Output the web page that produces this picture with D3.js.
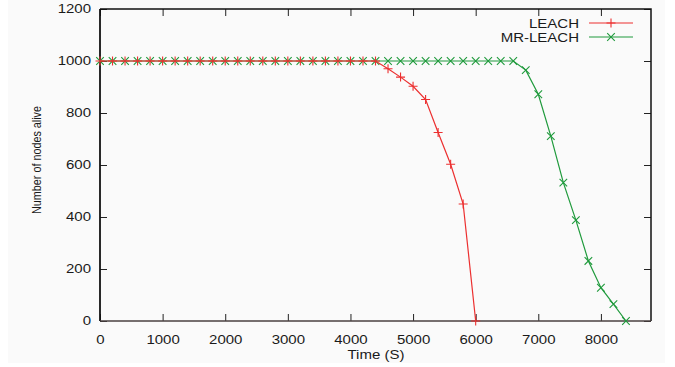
<!DOCTYPE html>
<html>
<head>
<meta charset="utf-8">
<script src="https://cdn.jsdelivr.net/npm/d3@7"></script>
<style>
  body { margin: 0; background: #fff; }
  svg { display: block; font-family: "Liberation Sans", Arial, sans-serif; }
</style>
</head>
<body>
<div id="chart"></div>
<script>
// time (s) and nodes alive
var leachTime  = [0, 200, 400, 600, 800, 1000, 1200, 1400, 1600, 1800, 2000, 2200, 2400, 2600, 2800,
                  3000, 3200, 3400, 3600, 3800, 4000, 4200, 4400, 4600, 4800, 5000, 5200, 5400, 5600, 5800, 6000];
var leachAlive = [1000, 1000, 1000, 1000, 1000, 1000, 1000, 1000, 1000, 1000, 1000, 1000, 1000, 1000, 1000,
                  1000, 1000, 1000, 1000, 1000, 1000, 1000, 1000, 970, 938, 903, 852, 725, 603, 450, 0];

var mrTime  = [0, 200, 400, 600, 800, 1000, 1200, 1400, 1600, 1800, 2000, 2200, 2400, 2600, 2800, 3000, 3200,
               3400, 3600, 3800, 4000, 4200, 4400, 4600, 4800, 5000, 5200, 5400, 5600, 5800, 6000, 6200, 6400,
               6600, 6800, 7000, 7200, 7400, 7600, 7800, 8000, 8200, 8400];
var mrAlive = [1000, 1000, 1000, 1000, 1000, 1000, 1000, 1000, 1000, 1000, 1000, 1000, 1000, 1000, 1000, 1000, 1000,
               1000, 1000, 1000, 1000, 1000, 1000, 1000, 1000, 1000, 1000, 1000, 1000, 1000, 1000, 1000, 1000,
               1000, 965, 872, 711, 532, 388, 231, 128, 65, 0];

var xTicks = [0, 1000, 2000, 3000, 4000, 5000, 6000, 7000, 8000];
var yTicks = [0, 200, 400, 600, 800, 1000, 1200];
var seriesNames = ["LEACH", "MR-LEACH"];

var W = 675, H = 367,
    plot = { left: 100, right: 651, top: 9, bottom: 321 },
    stretch = 1.25,   // the picture's text is drawn wide
    red = "#ec2f2f", green = "#1f9a3c";

var svg = d3.select("#chart").append("svg")
    .attr("width", W).attr("height", H);

// faint grey page behind the plot
svg.append("rect").attr("x", 8).attr("y", 0).attr("width", 657).attr("height", 363)
    .attr("fill", "#fafafa");

var x = d3.scaleLinear().domain([0, 8800]).range([plot.left, plot.right]);
var y = d3.scaleLinear().domain([0, 1200]).range([plot.bottom, plot.top]);

// widen a text node to the look of the picture
function widen(sel, k) {
  sel.each(function () {
    var len = this.getComputedTextLength();
    d3.select(this).attr("textLength", len * k).attr("lengthAdjust", "spacingAndGlyphs");
  });
}

function styleAxis(g) {
  g.select(".domain").remove();
  g.selectAll("line").attr("stroke", "#222").attr("stroke-width", 1);
  g.selectAll("text").attr("fill", "#1a1a1a").style("font-size", "12px");
}

// inward ticks on all four sides
svg.append("g").attr("transform", "translate(0," + plot.bottom + ")")
  .call(d3.axisBottom(x).tickValues(xTicks).tickSize(-7).tickPadding(14).tickFormat(d3.format("d")))
  .call(styleAxis)
  .call(function (g) { widen(g.selectAll("text"), stretch); });

svg.append("g").attr("transform", "translate(" + plot.left + ",0)")
  .call(d3.axisLeft(y).tickValues(yTicks).tickSize(-7).tickPadding(9).tickFormat(d3.format("d")))
  .call(styleAxis)
  .call(function (g) { widen(g.selectAll("text"), stretch); });

svg.append("g").attr("transform", "translate(0," + plot.top + ")")
  .call(d3.axisTop(x).tickValues(xTicks).tickSize(-7).tickFormat(""))
  .call(styleAxis);

svg.append("g").attr("transform", "translate(" + plot.right + ",0)")
  .call(d3.axisRight(y).tickValues(yTicks).tickSize(-7).tickFormat(""))
  .call(styleAxis);

// border
svg.append("path")
  .attr("d", "M" + plot.left + "," + plot.top + "H" + plot.right + "V" + plot.bottom)
  .attr("fill", "none").attr("stroke", "#111").attr("stroke-width", 1.5);
svg.append("line").attr("x1", plot.left).attr("x2", plot.left).attr("y1", plot.top).attr("y2", plot.bottom)
  .attr("stroke", "#111").attr("stroke-width", 1.8);
svg.append("line").attr("x1", plot.left).attr("x2", plot.right).attr("y1", plot.bottom).attr("y2", plot.bottom)
  .attr("stroke", "#4a4040").attr("stroke-width", 1.3);

// series
var line = d3.line().x(function (d) { return x(d[0]); }).y(function (d) { return y(d[1]); });

function plusPath(cx, cy, r) {
  return "M" + (cx - r) + "," + cy + "H" + (cx + r) + "M" + cx + "," + (cy - r) + "V" + (cy + r);
}
function crossPath(cx, cy, r) {
  return "M" + (cx - r) + "," + (cy - r) + "L" + (cx + r) + "," + (cy + r) +
         "M" + (cx - r) + "," + (cy + r) + "L" + (cx + r) + "," + (cy - r);
}

var series = [
  { name: seriesNames[0], pts: d3.zip(leachTime, leachAlive), color: red, marker: plusPath, r: 4.5 },
  { name: seriesNames[1], pts: d3.zip(mrTime, mrAlive), color: green, marker: crossPath, r: 3.8 }
];

// draw green first so the red plus marks show through on the shared flat part
[series[1], series[0]].forEach(function (s) {
  svg.append("path").datum(s.pts).attr("d", line)
    .attr("fill", "none").attr("stroke", s.color).attr("stroke-width", 1.2);
  svg.append("g").selectAll("path").data(s.pts).enter().append("path")
    .attr("d", function (d) { return s.marker(x(d[0]), y(d[1]), s.r); })
    .attr("stroke", s.color).attr("stroke-width", 1.1).attr("fill", "none");
});

// legend
series.forEach(function (s, i) {
  var ly = 23 + i * 14;
  var t = svg.append("text").attr("x", 579).attr("y", ly + 4.5)
    .attr("text-anchor", "end").style("font-size", "12px").attr("fill", "#1a1a1a")
    .text(s.name);
  widen(t, stretch);
  svg.append("line").attr("x1", 589).attr("x2", 633).attr("y1", ly).attr("y2", ly)
    .attr("stroke", s.color).attr("stroke-width", 1.2);
  svg.append("path").attr("d", s.marker(611, ly, s.r))
    .attr("stroke", s.color).attr("stroke-width", 1.1).attr("fill", "none");
});

// axis titles
var xt = svg.append("text").attr("x", 376).attr("y", 359).attr("text-anchor", "middle")
  .style("font-size", "12px").attr("fill", "#1a1a1a").text("Time (S)");
widen(xt, stretch);

var yt = svg.append("text").attr("transform", "translate(41,160) rotate(-90)")
  .attr("text-anchor", "middle").style("font-size", "13px").attr("fill", "#1a1a1a")
  .text("Number of nodes alive");
yt.attr("textLength", 108).attr("lengthAdjust", "spacingAndGlyphs");
</script>
</body>
</html>
